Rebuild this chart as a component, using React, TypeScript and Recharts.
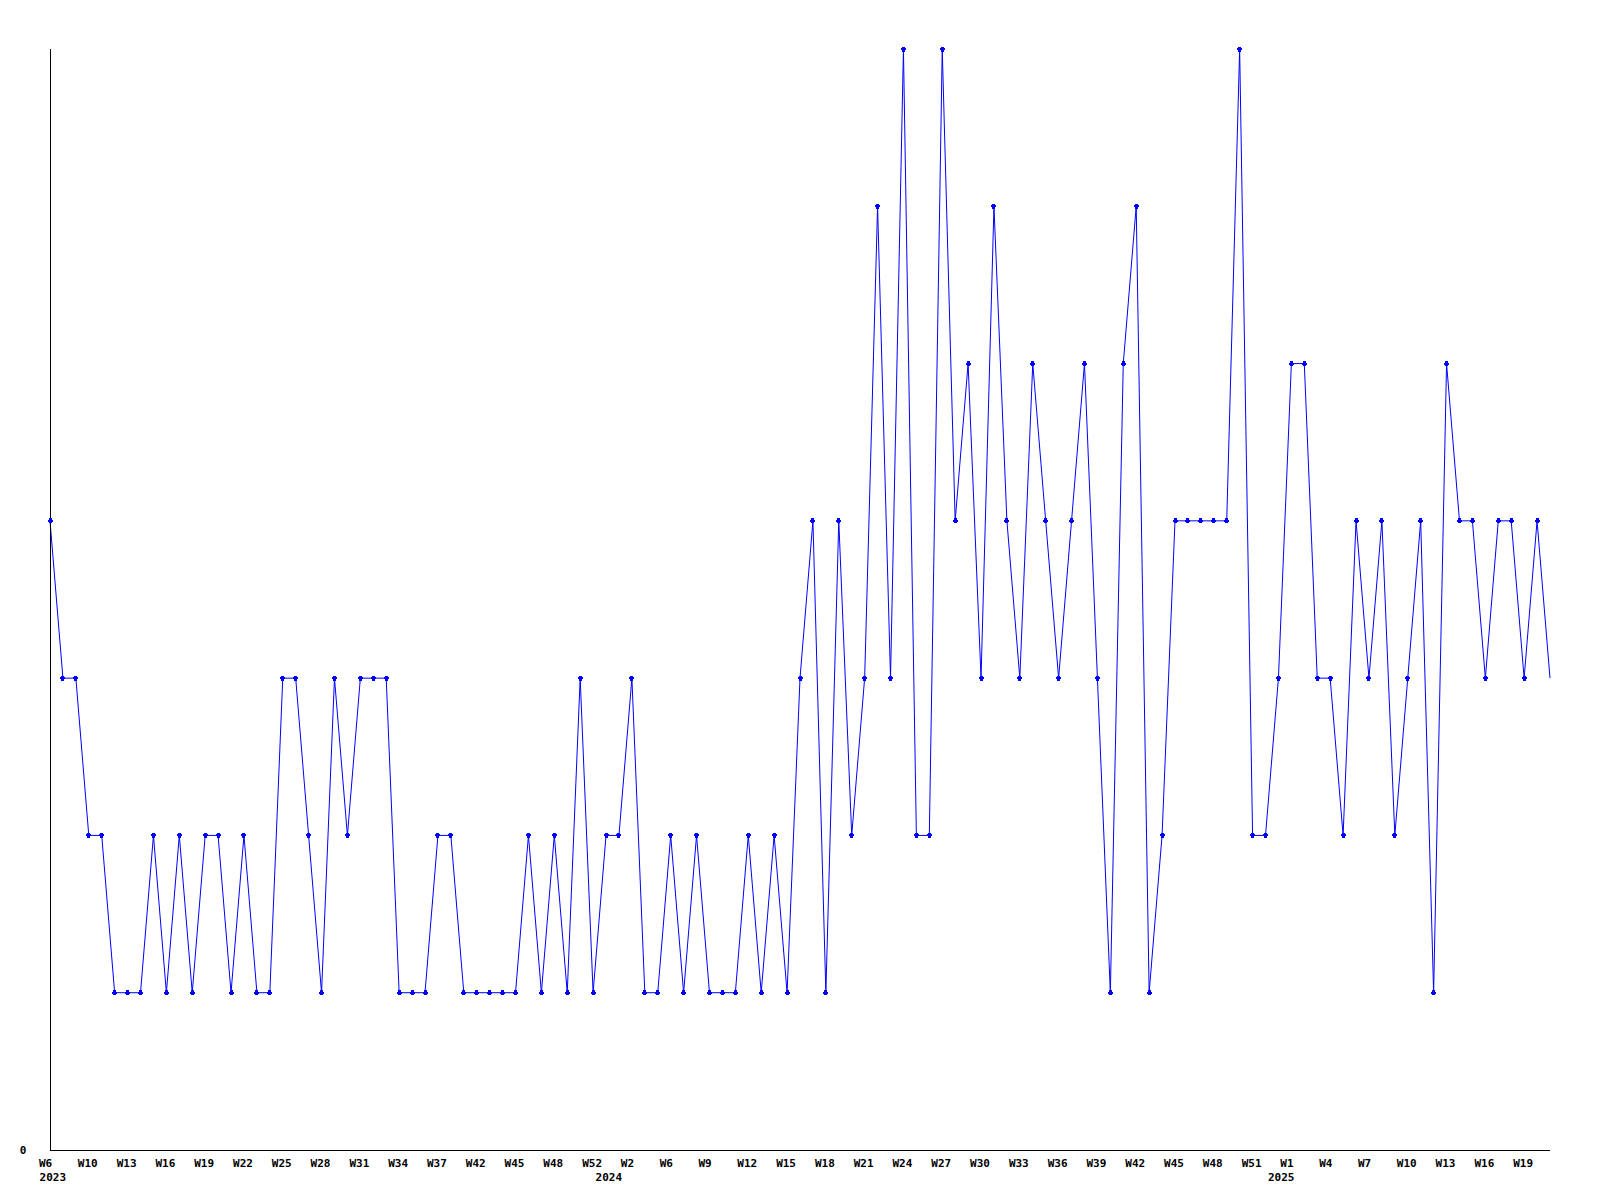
import React from 'react';
import { LineChart, Line, XAxis, YAxis } from 'recharts';

// ISO-like week numbers present in the data, per year
const weeks2023 = [6, 7, 9, 10, 11, 12, 13, 14, 15, 16, 17, 18, 19, 20, 21, 22, 23, 24, 25, 26, 27, 28, 29, 30, 31, 32, 33, 34, 35, 36, 37, 38, 40, 42, 43, 44, 45, 46, 47, 48, 49, 51, 52];
const weeks2024 = [0, 1, 2, 3, 5, 6, 7, 8, 9, 10, 11, 12, 13, 14, 15, 16, 17, 18, 19, 20, 21, 22, 23, 24, 25, 26, 27, 28, 29, 30, 31, 32, 33, 34, 35, 36, 37, 38, 39, 40, 41, 42, 43, 44, 45, 46, 47, 48, 49, 50, 51, 52];
const weeks2025 = [0, 1, 2, 3, 4, 5, 6, 7, 8, 9, 10, 11, 12, 13, 14, 15, 16, 17, 18, 19, 20, 21];

const values = [
  4, 3, 3, 2, 2, 1, 1, 1, 2, 1, 2, 1, 2, 2, 1, 2, 1, 1, 3, 3, 2, 1, 3, 2, 3, 3, 3, 1, 1, 1, 2,
  2, 1, 1, 1, 1, 1, 2, 1, 2, 1, 3, 1, 2, 2, 3, 1, 1, 2, 1, 2, 1, 1, 1, 2, 1, 2, 1, 3, 4, 1,
  4, 2, 3, 6, 3, 7, 2, 2, 7, 4, 5, 3, 6, 4, 3, 5, 4, 3, 4, 5, 3, 1, 5, 6, 1, 2, 4, 4, 4, 4,
  4, 7, 2, 2, 3, 5, 5, 3, 3, 2, 4, 3, 4, 2, 3, 4, 1, 5, 4, 4, 3, 4, 4, 3, 4, 3,
];

const yTicks = [0];
const yDomain = [0, 7];

type Cat = { key: string; year: number; week: number; yearStart: boolean };

const categories: Cat[] = [];
[[2023, weeks2023], [2024, weeks2024], [2025, weeks2025]].forEach(([year, weeks]: any) => {
  (weeks as number[]).forEach((w, j) => {
    categories.push({ key: `${year}-W${w}`, year, week: w, yearStart: j === 0 });
  });
});

const data = categories.map((c, i) => ({ cat: c.key, value: values[i] }));

const FONT = '"DejaVu Sans Mono", "Liberation Mono", monospace';

function XTick(props: any) {
  const { x, y, payload } = props;
  const i = payload?.index ?? props.index;
  const c = categories[i];
  if (!c) return <g />;
  const parts: any[] = [];
  if (i % 3 === 0) {
    const label = 'W' + c.week;
    const dx = label.length === 2 ? -4.4 : -1;
    parts.push(
      <text key="w" x={x + dx} y={y + 16.5} textAnchor="middle" fontFamily={FONT} fontWeight="bold" fontSize={11} fill="#000">
        {label}
      </text>
    );
  }
  if (c.yearStart) {
    parts.push(
      <text key="y" x={x + 2.8} y={y + 31} textAnchor="middle" fontFamily={FONT} fontWeight="bold" fontSize={11} fill="#000">
        {String(c.year)}
      </text>
    );
  }
  return <g>{parts}</g>;
}

function YTick(props: any) {
  const { y, payload } = props;
  return (
    <text x={23} y={y + 4} textAnchor="middle" fontFamily={FONT} fontWeight="bold" fontSize={11} fill="#000">
      {String(payload.value)}
    </text>
  );
}

function Marker(props: any) {
  const { cx, cy, index } = props;
  if (index === values.length - 1 || cx == null || cy == null) return <g key={`d${index}`} />;
  return (
    <g key={`d${index}`} shapeRendering="crispEdges">
      <rect x={cx - 1.5} y={cy - 2.5} width={3} height={5} fill="#0000ff" />
      <rect x={cx - 2.5} y={cy - 1} width={5} height={2} fill="#0000ff" />
    </g>
  );
}

export default function App() {
  return (
    <div style={{ position: 'absolute', left: 0, top: 0, width: 1600, height: 1200, background: '#fff' }}>
      <LineChart width={1600} height={1200} data={data} margin={{ top: 49, right: 50, bottom: 0, left: 0 }}>
        <XAxis
          dataKey="cat"
          type="category"
          scale="point"
          padding={{ left: 0, right: 0 }}
          interval={0}
          height={50}
          tickLine={false}
          tickSize={0}
          tickMargin={0}
          axisLine={{ stroke: '#000', strokeWidth: 1, shapeRendering: 'crispEdges' } as any}
          tick={<XTick />}
        />
        <YAxis
          type="number"
          domain={yDomain as any}
          ticks={yTicks}
          width={50}
          tickLine={false}
          tickSize={0}
          tickMargin={0}
          axisLine={{ stroke: '#000', strokeWidth: 1, shapeRendering: 'crispEdges' } as any}
          tick={<YTick />}
        />
        <Line
          type="linear"
          dataKey="value"
          stroke="#0000ff"
          strokeWidth={1}
          dot={(p: any) => <Marker {...p} />}
          activeDot={false}
          isAnimationActive={false}
        />
      </LineChart>
    </div>
  );
}
